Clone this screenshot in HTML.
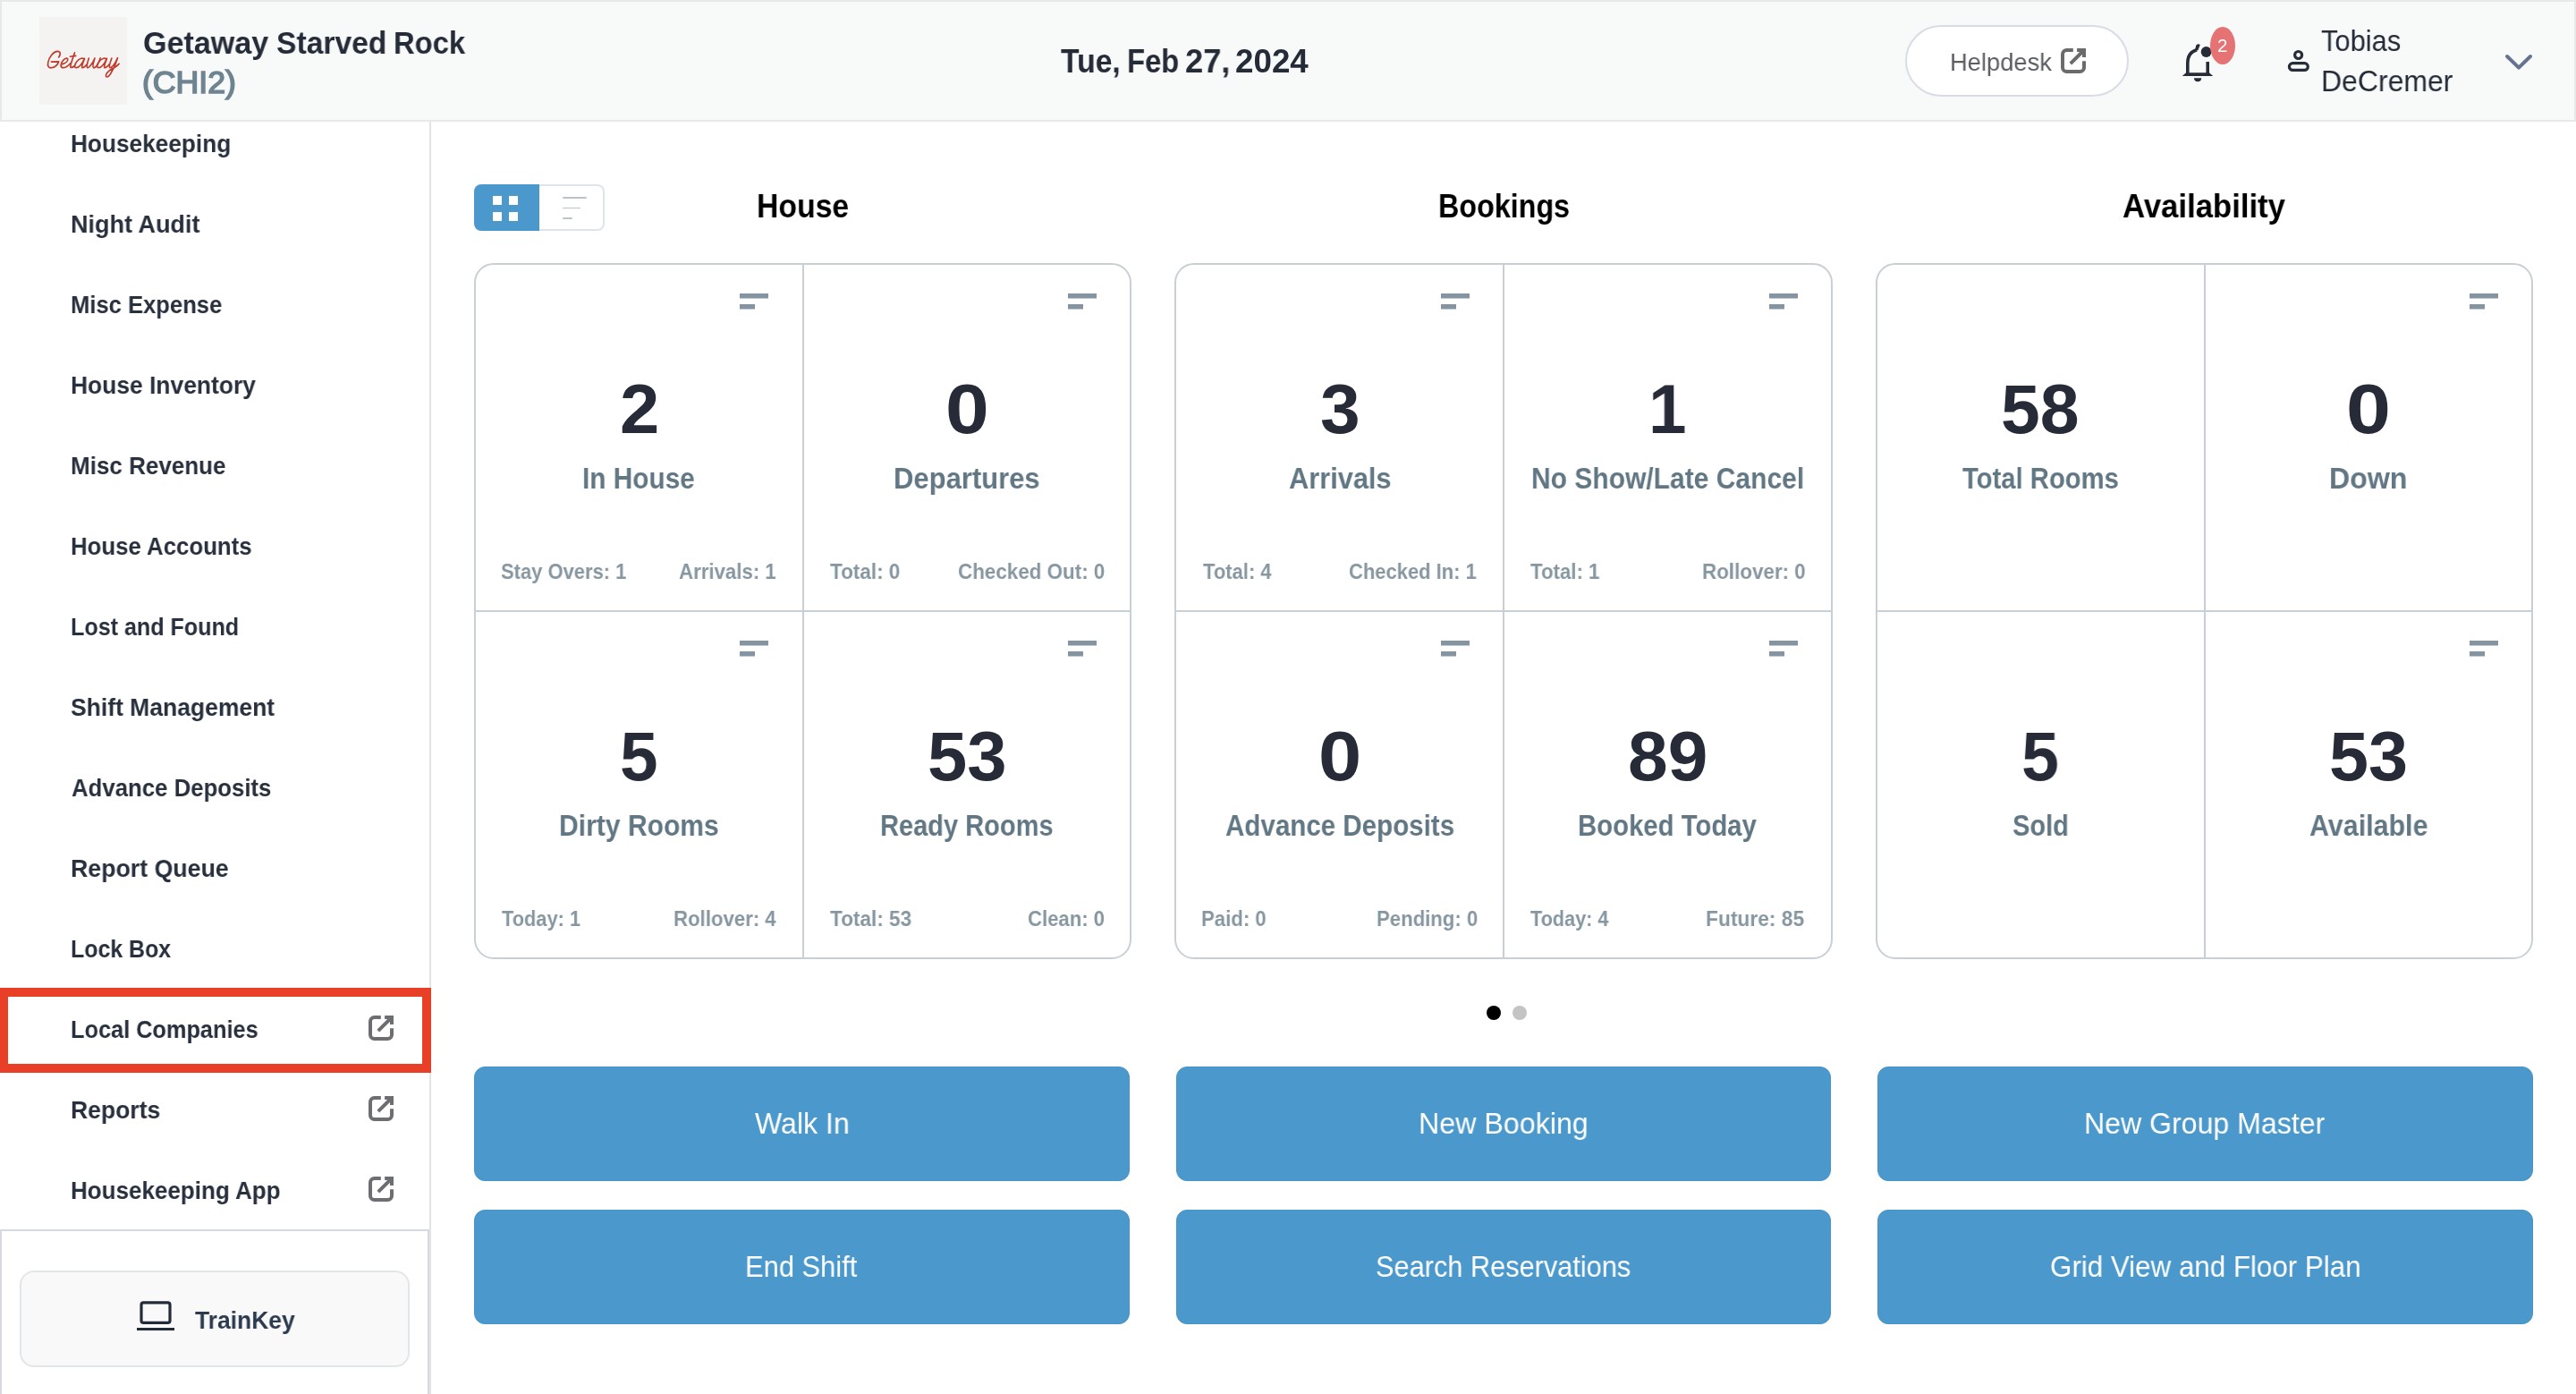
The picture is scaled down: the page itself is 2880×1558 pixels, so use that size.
<!DOCTYPE html>
<html lang="en">
<head>
<meta charset="utf-8">
<title>Getaway Starved Rock (CHI2) - Dashboard</title>
<style>
html,body{margin:0;padding:0}
body{width:2880px;height:1558px;position:relative;overflow:hidden;background:#fff;font-family:"Liberation Sans",sans-serif}
.t{position:absolute;white-space:pre;line-height:1;transform-origin:0 0;font-weight:400;will-change:transform}
.b{font-weight:700}
h2{margin:0}
a{text-decoration:none;cursor:pointer}
.ic{position:absolute;display:block}
i{display:block;position:absolute}
#hdr{position:absolute;left:0;top:0;width:2880px;height:136px;box-sizing:border-box;border:2px solid #e6e9ea;background:#f8f9f9}
#logo{position:absolute;left:44px;top:19px;width:98px;height:98px;background:#f5f3f1}
#help{position:absolute;left:2130px;top:28px;width:250px;height:79.5px;box-sizing:border-box;border:2px solid #d9dce5;border-radius:40px;background:#fff}
#badge{position:absolute;left:2471px;top:29.7px;width:28px;height:42.3px;border-radius:50%;background:#e57373}
#side{position:absolute;left:0;top:136px;width:480px;height:1422px;border-right:2px solid #e2e3e4;background:#fff}
#foot{position:absolute;left:0;top:1374px;width:480px;height:200px;box-sizing:border-box;border:2px solid #d6d9de;background:#fff}
#tk{position:absolute;left:22px;top:1420px;width:436px;height:107.5px;box-sizing:border-box;border:2px solid #e3e6e8;border-radius:16px;background:#f9f9fa}
#hl{position:absolute;left:-1px;top:1104px;width:483px;height:95px;box-sizing:border-box;border:10px solid #e83f26}
#tg1{position:absolute;left:530px;top:206px;width:73px;height:52px;background:#4b98cc;border-radius:8px 0 0 8px}
#tg2{position:absolute;left:603px;top:206px;width:73px;height:52px;box-sizing:border-box;border:2px solid #dfe4e7;border-left:0;border-radius:0 8px 8px 0;background:#fff}
.sq{width:10px;height:10px;background:#fff}
.ln{height:1.8px;border-radius:1px;background:#b9c4ca;left:629px}
.grp{position:absolute;top:294px;width:735.33px;height:778px;box-sizing:border-box;border:2px solid #c8d0d6;border-radius:22px;background:#fff}
.vd{left:365px;top:0;width:2px;height:774px;background:#c8d0d6}
.hd{left:0;top:386px;width:731.33px;height:2px;background:#c8d0d6}
.mi{width:32px;height:17.5px;background:linear-gradient(#8494a0,#8494a0) 0 0/32px 5.5px no-repeat,linear-gradient(#8494a0,#8494a0) 0 12px/17px 5.5px no-repeat}
.dot{width:16px;height:16px;border-radius:50%;top:1124px}
.btn{position:absolute;width:732.67px;height:128px;box-sizing:border-box;border:1px solid #4794ca;border-radius:12px;background:#4b99cc}
</style>
</head>
<body>
<header>
<div id="hdr"></div>
<div id="logo"><svg class="ic" role="img" aria-label="Getaway" style="left:4px;top:31px" width="90" height="45" viewBox="0 0 2576 1288" fill="none" stroke="#bf3b2c" stroke-width="48" stroke-linecap="round" stroke-linejoin="round"><title>Getaway</title>
<path d="M270 548L505 540C470 640 380 725 270 738C180 745 140 680 165 560C200 390 340 210 470 212C560 215 580 300 505 400"/>
<path d="M620 620C720 590 800 520 795 460C785 410 700 430 640 510C570 600 540 720 640 735C740 740 820 660 870 600"/>
<path d="M1015 255C960 420 900 580 880 690C875 740 930 745 1010 680M870 378L1050 352"/>
<path d="M1325 470C1290 410 1180 420 1090 530C1010 630 990 735 1070 738C1160 735 1270 590 1330 440C1290 560 1230 690 1250 725C1280 755 1360 690 1410 620"/>
<path d="M1470 430C1430 550 1380 700 1420 735C1470 750 1590 600 1660 430C1620 550 1570 710 1620 738C1690 750 1790 600 1835 425"/>
<path d="M2040 470C2005 410 1895 420 1805 530C1725 630 1705 735 1785 738C1875 735 1985 590 2045 440C2005 560 1945 690 1965 725C1995 755 2075 690 2125 620"/>
<path d="M2200 430C2160 550 2100 700 2140 735C2200 750 2320 600 2390 420C2340 600 2250 800 2150 950C2080 1050 2000 1060 2020 960C2050 870 2200 760 2300 720C2360 690 2410 650 2435 610"/>
</svg></div>
<span class="t b" style="left:160px;top:30.6px;font-size:34.68px;color:#252c38;transform:scaleX(0.9832)">Getaway </span>
<span class="t b" style="left:309px;top:30.6px;font-size:34.68px;color:#252c38;transform:scaleX(0.9698)">Starved </span>
<span class="t b" style="left:440px;top:30.6px;font-size:34.68px;color:#252c38;transform:scaleX(0.9450)">Rock</span>
<span class="t" style="left:159px;top:74.5px;font-size:34.68px;color:#6f8491;transform:scaleX(1.0279);-webkit-text-stroke:1.6px #6f8491">(CHI2)</span>
<span class="t b" style="left:1186px;top:51.1px;font-size:36.72px;color:#252c38;transform:scaleX(0.9169)">Tue, </span>
<span class="t b" style="left:1260px;top:51.1px;font-size:36.72px;color:#252c38;transform:scaleX(0.8931)">Feb </span>
<span class="t b" style="left:1325px;top:51.1px;font-size:36.72px;color:#252c38;transform:scaleX(0.9874)">27, </span>
<span class="t b" style="left:1381px;top:51.1px;font-size:36.72px;color:#252c38;transform:scaleX(1.0012)">2024</span>
<div id="help"></div>
<svg class="ic" style="left:2304px;top:54px" width="28" height="28" viewBox="0 0 28 28" fill="none" stroke="#6b6b6e" stroke-width="4"><path d="M13.8 2H6.5A4.5 4.5 0 0 0 2 6.5v15A4.5 4.5 0 0 0 6.5 26h15a4.5 4.5 0 0 0 4.5-4.5v-7.3"/><path d="M18.1 2H26v7.9M26 2 10.8 17.2"/></svg>
<svg class="ic" style="left:2438px;top:47px" width="40" height="46" viewBox="0 0 40 46"><g fill="none" stroke="#262d39" stroke-width="3.6"><path d="M7.8 36V23.5C7.8 15.5 12 10.5 18 8.8"/><path d="M30.2 22v14"/></g><path fill="#262d39" d="M1.8 38 6 34.3h26L36.2 38zM15 40.2h8.2a4.1 4.1 0 0 1-8.2 0zM16.2 8.5 17 4.6c.4-1.8 2.2-2.6 3.6-2.2l1.2.5-2.6 6.6z"/><circle cx="28.6" cy="11" r="5.9" fill="#262d39"/></svg>
<div id="badge"></div>
<svg class="ic" style="left:2556px;top:54px" width="28" height="28" viewBox="0 0 28 28" fill="none" stroke="#262d39" stroke-width="3.2"><circle cx="13.6" cy="7.5" r="4"/><rect x="3.4" y="16.7" width="20.9" height="7.7" rx="3.85"/></svg>
<span class="t" style="left:2180px;top:55.0px;font-size:28.56px;color:#5c5e63;transform:scaleX(0.9571)">Helpdesk</span>
<span class="t" style="left:2479px;top:42.2px;font-size:19.38px;color:#ffffff;transform:scaleX(1.0636)">2</span>
<span class="t" style="left:2595px;top:30.3px;font-size:32.64px;color:#252c38;transform:scaleX(0.9466)">Tobias</span>
<span class="t" style="left:2595px;top:74.6px;font-size:32.64px;color:#252c38;transform:scaleX(0.9796)">DeCremer</span>
<svg class="ic" style="left:2799px;top:58px" width="34" height="24" viewBox="0 0 34 24" fill="none" stroke="#66738f" stroke-width="4" stroke-linecap="round" stroke-linejoin="round"><path d="M4 5l13 12.6L30 5"/></svg>
</header>
<nav>
<div id="side"></div>
<a class="t b" style="left:79px;top:145.8px;font-size:28.56px;color:#28303d;transform:scaleX(0.9185)">Housekeeping</a>
<a class="t b" style="left:79px;top:235.8px;font-size:28.56px;color:#28303d;transform:scaleX(0.9458)">Night Audit</a>
<a class="t b" style="left:79px;top:325.8px;font-size:28.56px;color:#28303d;transform:scaleX(0.8961)">Misc Expense</a>
<a class="t b" style="left:79px;top:415.8px;font-size:28.56px;color:#28303d;transform:scaleX(0.9250)">House Inventory</a>
<a class="t b" style="left:79px;top:505.8px;font-size:28.56px;color:#28303d;transform:scaleX(0.9110)">Misc Revenue</a>
<a class="t b" style="left:79px;top:595.8px;font-size:28.56px;color:#28303d;transform:scaleX(0.9039)">House Accounts</a>
<a class="t b" style="left:79px;top:685.8px;font-size:28.56px;color:#28303d;transform:scaleX(0.8791)">Lost and Found</a>
<a class="t b" style="left:79px;top:775.8px;font-size:28.56px;color:#28303d;transform:scaleX(0.9278)">Shift Management</a>
<a class="t b" style="left:80px;top:865.8px;font-size:28.56px;color:#28303d;transform:scaleX(0.9027)">Advance Deposits</a>
<a class="t b" style="left:79px;top:955.8px;font-size:28.56px;color:#28303d;transform:scaleX(0.9363)">Report Queue</a>
<a class="t b" style="left:79px;top:1045.8px;font-size:28.56px;color:#28303d;transform:scaleX(0.8723)">Lock Box</a>
<a class="t b" style="left:79px;top:1135.8px;font-size:28.56px;color:#28303d;transform:scaleX(0.8871)">Local Companies</a>
<a class="t b" style="left:79px;top:1225.8px;font-size:28.56px;color:#28303d;transform:scaleX(0.9294)">Reports</a>
<a class="t b" style="left:79px;top:1315.8px;font-size:28.56px;color:#28303d;transform:scaleX(0.9110)">Housekeeping App</a>
<svg class="ic" style="left:412px;top:1135px" width="28" height="28" viewBox="0 0 28 28" fill="none" stroke="#6d6e71" stroke-width="4"><path d="M13.8 2H6.5A4.5 4.5 0 0 0 2 6.5v15A4.5 4.5 0 0 0 6.5 26h15a4.5 4.5 0 0 0 4.5-4.5v-7.3"/><path d="M18.1 2H26v7.9M26 2 10.8 17.2"/></svg>
<svg class="ic" style="left:412px;top:1225px" width="28" height="28" viewBox="0 0 28 28" fill="none" stroke="#6d6e71" stroke-width="4"><path d="M13.8 2H6.5A4.5 4.5 0 0 0 2 6.5v15A4.5 4.5 0 0 0 6.5 26h15a4.5 4.5 0 0 0 4.5-4.5v-7.3"/><path d="M18.1 2H26v7.9M26 2 10.8 17.2"/></svg>
<svg class="ic" style="left:412px;top:1315px" width="28" height="28" viewBox="0 0 28 28" fill="none" stroke="#6d6e71" stroke-width="4"><path d="M13.8 2H6.5A4.5 4.5 0 0 0 2 6.5v15A4.5 4.5 0 0 0 6.5 26h15a4.5 4.5 0 0 0 4.5-4.5v-7.3"/><path d="M18.1 2H26v7.9M26 2 10.8 17.2"/></svg>
<div id="foot"></div>
<div id="tk"></div>
<svg class="ic" style="left:152px;top:1452px" width="44" height="38" viewBox="0 0 44 38" fill="none" stroke="#232b38"><rect x="6" y="3.8" width="32" height="22.6" rx="2.5" stroke-width="3.2"/><path d="M1 33.6h42" stroke-width="3"/></svg>
<a class="t b" style="left:218px;top:1461.1px;font-size:28.56px;color:#2c3a4e;transform:scaleX(0.9264)">TrainKey</a>
<div id="hl"></div>
</nav>
<main>
<div id="tg1"><i class="sq" style="left:21px;top:13px"></i><i class="sq" style="left:39px;top:13px"></i><i class="sq" style="left:21px;top:31px"></i><i class="sq" style="left:39px;top:31px"></i></div>
<div id="tg2"></div>
<i class="ln" style="top:220px;width:27px"></i><i class="ln" style="top:231.5px;width:20px"></i><i class="ln" style="top:243px;width:11px"></i>
<section class="grp" style="left:530px"><i class="vd"></i><i class="hd"></i></section>
<i class="mi" style="left:827.3px;top:328px"></i>
<i class="mi" style="left:827.3px;top:716px"></i>
<i class="mi" style="left:1194.3px;top:328px"></i>
<i class="mi" style="left:1194.3px;top:716px"></i>
<section class="grp" style="left:1313.33px"><i class="vd"></i><i class="hd"></i></section>
<i class="mi" style="left:1610.6px;top:328px"></i>
<i class="mi" style="left:1610.6px;top:716px"></i>
<i class="mi" style="left:1977.6px;top:328px"></i>
<i class="mi" style="left:1977.6px;top:716px"></i>
<section class="grp" style="left:2096.67px"><i class="vd"></i><i class="hd"></i></section>
<i class="mi" style="left:2761.0px;top:328px"></i>
<i class="mi" style="left:2761.0px;top:716px"></i>
<h2 class="t b" style="left:846px;top:212.7px;font-size:36.72px;color:#000000;transform:scaleX(0.9190)">House</h2>
<h2 class="t b" style="left:1608px;top:212.7px;font-size:36.72px;color:#000000;transform:scaleX(0.8793)">Bookings</h2>
<h2 class="t b" style="left:2373px;top:212.7px;font-size:36.72px;color:#000000;transform:scaleX(0.9452)">Availability</h2>
<span class="t b" style="left:693px;top:417.7px;font-size:78.57px;color:#262b37;transform:scaleX(1.0134)">2</span>
<span class="t b" style="left:651px;top:519.1px;font-size:32.64px;color:#627784;transform:scaleX(0.9134)">In House</span>
<span class="t b" style="left:560px;top:626.6px;font-size:24.48px;color:#8797a1;transform:scaleX(0.8977)">Stay Overs: 1</span>
<span class="t b" style="left:759px;top:626.6px;font-size:24.48px;color:#8797a1;transform:scaleX(0.9085)">Arrivals: 1</span>
<span class="t b" style="left:1057px;top:417.7px;font-size:78.57px;color:#262b37;transform:scaleX(1.1150)">0</span>
<span class="t b" style="left:999px;top:519.1px;font-size:32.64px;color:#627784;transform:scaleX(0.9499)">Departures</span>
<span class="t b" style="left:928px;top:626.6px;font-size:24.48px;color:#8797a1;transform:scaleX(0.9194)">Total: 0</span>
<span class="t b" style="left:1071px;top:626.6px;font-size:24.48px;color:#8797a1;transform:scaleX(0.9157)">Checked Out: 0</span>
<span class="t b" style="left:693px;top:805.7px;font-size:78.57px;color:#262b37;transform:scaleX(0.9742)">5</span>
<span class="t b" style="left:625px;top:907.1px;font-size:32.64px;color:#627784;transform:scaleX(0.9214)">Dirty Rooms</span>
<span class="t b" style="left:561px;top:1014.6px;font-size:24.48px;color:#8797a1;transform:scaleX(0.8908)">Today: 1</span>
<span class="t b" style="left:753px;top:1014.6px;font-size:24.48px;color:#8797a1;transform:scaleX(0.9065)">Rollover: 4</span>
<span class="t b" style="left:1037px;top:805.7px;font-size:78.57px;color:#262b37;transform:scaleX(1.0130)">53</span>
<span class="t b" style="left:984px;top:907.1px;font-size:32.64px;color:#627784;transform:scaleX(0.8896)">Ready Rooms</span>
<span class="t b" style="left:928px;top:1014.6px;font-size:24.48px;color:#8797a1;transform:scaleX(0.9226)">Total: 53</span>
<span class="t b" style="left:1149px;top:1014.6px;font-size:24.48px;color:#8797a1;transform:scaleX(0.9040)">Clean: 0</span>
<span class="t b" style="left:1476px;top:417.7px;font-size:78.57px;color:#262b37;transform:scaleX(1.0218)">3</span>
<span class="t b" style="left:1441px;top:519.1px;font-size:32.64px;color:#627784;transform:scaleX(0.9430)">Arrivals</span>
<span class="t b" style="left:1345px;top:626.6px;font-size:24.48px;color:#8797a1;transform:scaleX(0.8986)">Total: 4</span>
<span class="t b" style="left:1508px;top:626.6px;font-size:24.48px;color:#8797a1;transform:scaleX(0.8976)">Checked In: 1</span>
<span class="t b" style="left:1843px;top:417.7px;font-size:78.57px;color:#262b37;transform:scaleX(0.9719)">1</span>
<span class="t b" style="left:1712px;top:519.1px;font-size:32.64px;color:#627784;transform:scaleX(0.9197)">No Show/Late Cancel</span>
<span class="t b" style="left:1711px;top:626.6px;font-size:24.48px;color:#8797a1;transform:scaleX(0.9094)">Total: 1</span>
<span class="t b" style="left:1903px;top:626.6px;font-size:24.48px;color:#8797a1;transform:scaleX(0.9147)">Rollover: 0</span>
<span class="t b" style="left:1474px;top:805.7px;font-size:78.57px;color:#262b37;transform:scaleX(1.1036)">0</span>
<span class="t b" style="left:1370px;top:907.1px;font-size:32.64px;color:#627784;transform:scaleX(0.9056)">Advance Deposits</span>
<span class="t b" style="left:1343px;top:1014.6px;font-size:24.48px;color:#8797a1;transform:scaleX(0.9059)">Paid: 0</span>
<span class="t b" style="left:1539px;top:1014.6px;font-size:24.48px;color:#8797a1;transform:scaleX(0.9053)">Pending: 0</span>
<span class="t b" style="left:1820px;top:805.7px;font-size:78.57px;color:#262b37;transform:scaleX(1.0217)">89</span>
<span class="t b" style="left:1764px;top:907.1px;font-size:32.64px;color:#627784;transform:scaleX(0.8986)">Booked Today</span>
<span class="t b" style="left:1711px;top:1014.6px;font-size:24.48px;color:#8797a1;transform:scaleX(0.8841)">Today: 4</span>
<span class="t b" style="left:1907px;top:1014.6px;font-size:24.48px;color:#8797a1;transform:scaleX(0.9309)">Future: 85</span>
<span class="t b" style="left:2237px;top:417.7px;font-size:78.57px;color:#262b37;transform:scaleX(1.0034)">58</span>
<span class="t b" style="left:2194px;top:519.1px;font-size:32.64px;color:#627784;transform:scaleX(0.8957)">Total Rooms</span>
<span class="t b" style="left:2623px;top:417.7px;font-size:78.57px;color:#262b37;transform:scaleX(1.1433)">0</span>
<span class="t b" style="left:2604px;top:519.1px;font-size:32.64px;color:#627784;transform:scaleX(0.9849)">Down</span>
<span class="t b" style="left:2260px;top:805.7px;font-size:78.57px;color:#262b37;transform:scaleX(0.9614)">5</span>
<span class="t b" style="left:2250px;top:907.1px;font-size:32.64px;color:#627784;transform:scaleX(0.8897)">Sold</span>
<span class="t b" style="left:2604px;top:805.7px;font-size:78.57px;color:#262b37;transform:scaleX(1.0080)">53</span>
<span class="t b" style="left:2582px;top:907.1px;font-size:32.64px;color:#627784;transform:scaleX(0.9322)">Available</span>
<i class="dot" style="left:1662px;background:#000"></i><i class="dot" style="left:1691px;background:#c4c4c4"></i>
<div class="btn" style="left:530px;top:1192px"></div>
<div class="btn" style="left:530px;top:1352px"></div>
<div class="btn" style="left:1314.67px;top:1192px"></div>
<div class="btn" style="left:1314.67px;top:1352px"></div>
<div class="btn" style="left:2099.33px;top:1192px"></div>
<div class="btn" style="left:2099.33px;top:1352px"></div>
<span class="t" style="left:844px;top:1240.4px;font-size:32.64px;color:#ffffff;transform:scaleX(0.9830)">Walk In</span>
<span class="t" style="left:833px;top:1400.4px;font-size:32.64px;color:#ffffff;transform:scaleX(0.9471)">End Shift</span>
<span class="t" style="left:1586px;top:1240.4px;font-size:32.64px;color:#ffffff;transform:scaleX(0.9871)">New Booking</span>
<span class="t" style="left:1538px;top:1400.4px;font-size:32.64px;color:#ffffff;transform:scaleX(0.9417)">Search Reservations</span>
<span class="t" style="left:2330px;top:1240.4px;font-size:32.64px;color:#ffffff;transform:scaleX(0.9833)">New Group Master</span>
<span class="t" style="left:2292px;top:1400.4px;font-size:32.64px;color:#ffffff;transform:scaleX(0.9599)">Grid View and Floor Plan</span>
</main>
<script>(function(){var w=window.innerWidth;if(w&&Math.abs(w-2880)>1){document.documentElement.style.zoom=w/2880;}})();</script>
</body>
</html>
